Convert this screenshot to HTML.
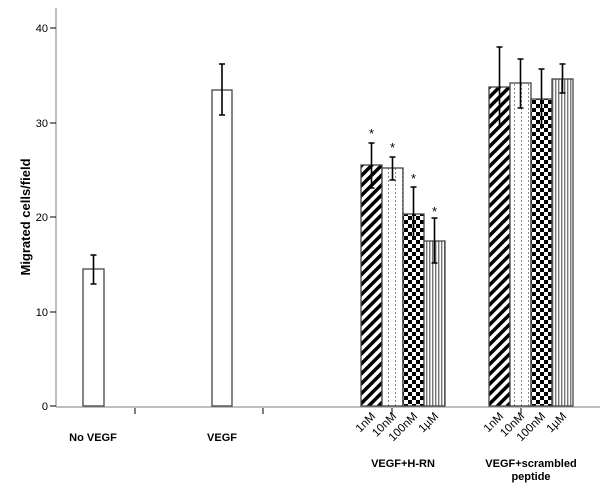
<!DOCTYPE html>
<html><head><style>body{margin:0;background:#fff}svg{display:block}</style></head><body>
<svg width="610" height="492" xmlns="http://www.w3.org/2000/svg" font-family="Liberation Sans, sans-serif">
<defs>
<pattern id="diag" width="7" height="7" patternUnits="userSpaceOnUse" patternTransform="rotate(45)">
<rect width="7" height="7" fill="#fff"/><rect width="3.5" height="7" fill="#000"/></pattern>
<pattern id="dots" width="7" height="4" patternUnits="userSpaceOnUse">
<rect width="7" height="4" fill="#fff"/><rect x="3" y="0" width="1" height="2" fill="#888"/></pattern>
<pattern id="check" width="8" height="8" patternUnits="userSpaceOnUse">
<rect width="8" height="8" fill="#fff"/><rect width="4" height="4" fill="#000"/><rect x="4" y="4" width="4" height="4" fill="#000"/></pattern>
<pattern id="vert" width="3" height="4" patternUnits="userSpaceOnUse">
<rect width="3" height="4" fill="#fff"/><rect width="1.4" height="4" fill="#777"/></pattern>
</defs>
<rect width="610" height="492" fill="#fff"/>
<g stroke="#aaa" stroke-width="1.5" fill="none">
<line x1="56" y1="8" x2="56" y2="407"/>
<line x1="56" y1="407" x2="600" y2="407"/>
</g>
<g stroke="#000" stroke-width="1">
<line x1="50" y1="28" x2="56" y2="28"/><line x1="50" y1="123" x2="56" y2="123"/>
<line x1="50" y1="217" x2="56" y2="217"/><line x1="50" y1="312" x2="56" y2="312"/>
<line x1="50" y1="406" x2="56" y2="406"/>
<line x1="135" y1="408" x2="135" y2="414"/><line x1="263" y1="408" x2="263" y2="414"/>
<line x1="392" y1="408" x2="392" y2="414"/><line x1="521" y1="408" x2="521" y2="414"/>
</g>
<g font-size="11" text-anchor="end" fill="#000">
<text x="48" y="32">40</text><text x="48" y="127">30</text><text x="48" y="221">20</text>
<text x="48" y="316">10</text><text x="48" y="410">0</text>
</g>
<text transform="translate(30,217) rotate(-90)" font-size="13" font-weight="bold" text-anchor="middle">Migrated cells/field</text>
<g stroke="#444" stroke-width="1.3">
<rect x="83" y="269" width="21" height="137" fill="#fff"/>
<rect x="212" y="90" width="20" height="316" fill="#fff"/>
<rect x="361" y="165" width="21" height="241" fill="url(#diag)"/>
<rect x="382" y="168" width="21" height="238" fill="url(#dots)"/>
<rect x="403" y="214" width="21" height="192" fill="url(#check)"/>
<rect x="424" y="241" width="21" height="165" fill="url(#vert)"/>
<rect x="489" y="87" width="21" height="319" fill="url(#diag)"/>
<rect x="510" y="83" width="21" height="323" fill="url(#dots)"/>
<rect x="531" y="99" width="21" height="307" fill="url(#check)"/>
<rect x="552" y="79" width="21" height="327" fill="url(#vert)"/>
</g>
<g stroke="#000" stroke-width="1.6">
<path d="M93.5 255V284M90.5 255h6M90.5 284h6"/>
<path d="M222 64V115M219 64h6M219 115h6"/>
<path d="M371.5 143V188M368.5 143h6M368.5 188h6"/>
<path d="M392.5 157V180M389.5 157h6M389.5 180h6"/>
<path d="M413.5 187V240M410.5 187h6"/>
<path d="M434.5 218V263M431.5 218h6M431.5 263h6"/>
<path d="M499.5 47V126M496.5 47h6"/>
<path d="M520.5 59V108M517.5 59h6M517.5 108h6"/>
<path d="M541.5 69V129M538.5 69h6"/>
<path d="M562.5 64V93M559.5 64h6M559.5 93h6"/>
</g>
<g font-size="13" text-anchor="middle">
<text x="371.5" y="138">*</text><text x="392.5" y="152">*</text>
<text x="413.5" y="183">*</text><text x="434.5" y="216">*</text>
</g>
<g font-size="11" font-weight="bold" text-anchor="middle">
<text x="93" y="441">No VEGF</text><text x="222" y="441">VEGF</text>
<text x="403" y="467">VEGF+H-RN</text>
<text x="531" y="467">VEGF+scrambled</text><text x="531" y="480">peptide</text>
</g>
<g font-size="11.5" text-anchor="end">
<text transform="translate(376,417) rotate(-45)">1nM</text>
<text transform="translate(397,417) rotate(-45)">10nM</text>
<text transform="translate(418,417) rotate(-45)">100nM</text>
<text transform="translate(439,417) rotate(-45)">1µM</text>
<text transform="translate(504,417) rotate(-45)">1nM</text>
<text transform="translate(525,417) rotate(-45)">10nM</text>
<text transform="translate(546,417) rotate(-45)">100nM</text>
<text transform="translate(567,417) rotate(-45)">1µM</text>
</g>
</svg>
</body></html>
